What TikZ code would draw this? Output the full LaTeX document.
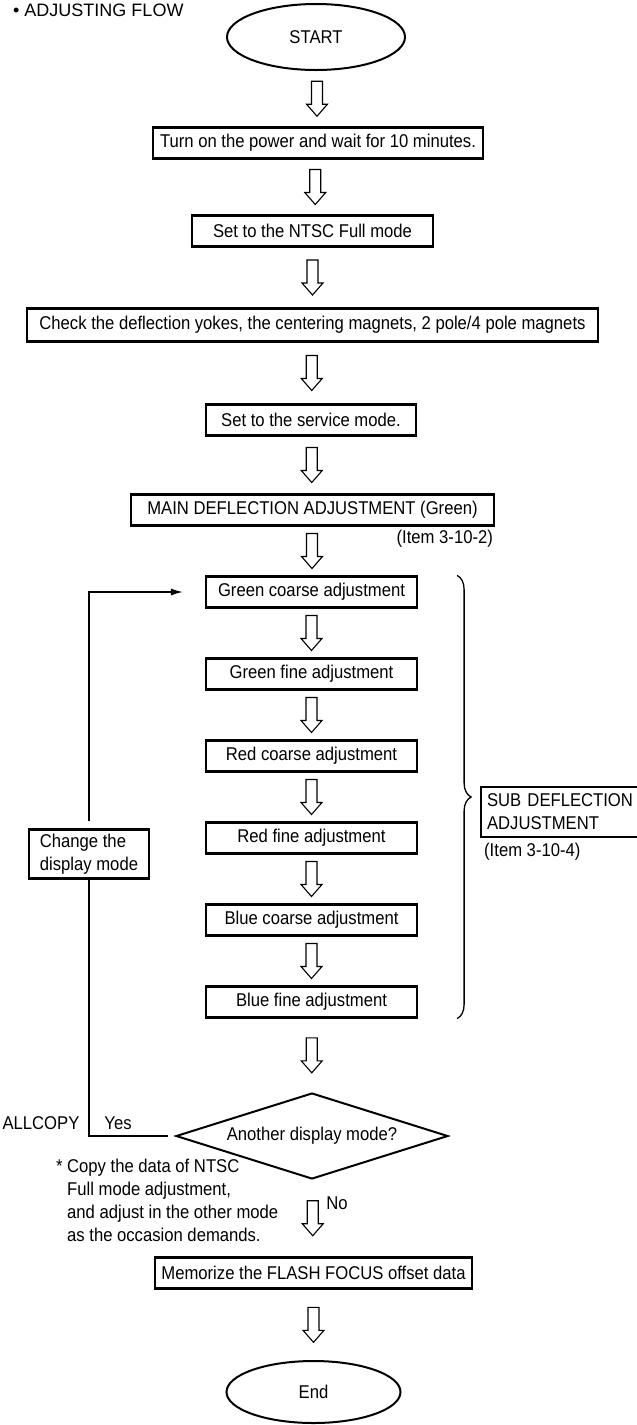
\documentclass[tikz,border=0pt]{standalone}
\usepackage{fontspec}
\setmainfont{Liberation Sans}[FakeStretch=0.9]
\newfontfamily\headfont{Liberation Sans}
\usepackage{tikz}
\usetikzlibrary{arrows.meta,positioning,shapes.geometric,calc,decorations.pathreplacing}
\tikzset{
  hollowdown/.pic={
    \draw[line width=1.1pt, fill=white] (-5.5,-17.5) -- (-5.5,5.5) -- (-10.5,5.5)
      -- (0,17.5) -- (10.5,5.5) -- (5.5,5.5) -- (5.5,-17.5) -- cycle;
  }
}
\newcommand{\flowstep}[2]{\pic at ($(#1.south)!0.5!(#2.north)$) {hollowdown};}

\begin{document}
\begin{tikzpicture}[
    x=1pt, y=-1pt,
    font=\fontsize{18.5}{23}\selectfont,
    box/.style={draw=black, line width=2.2pt, minimum height=31pt, inner sep=0pt, align=center},
    term/.style={ellipse, draw=black, line width=2pt, minimum width=178pt, minimum height=66pt, inner sep=0pt},
    ask/.style={diamond, draw=black, line width=2pt, aspect=3.2, minimum width=272pt,
                minimum height=86pt, inner sep=0pt},
    lbl/.style={inner sep=0pt},
    line/.style={line width=1.3pt, draw=black},
    arrow/.style={line, -{Latex[length=12pt, width=7pt]}}
]
\useasboundingbox (0,0) rectangle (637,1425);

\node[lbl, anchor=west, font=\headfont\fontsize{18}{22}\selectfont] (title) at (13,10) {• ADJUSTING FLOW};
\node[term] (start) at (316,37) {START};
\node[box, minimum width=330pt] (power) at (318,143) {Turn on the power and wait for 10 minutes.};
\node[box, minimum width=241pt] (ntsc) at (312.5,231) {Set to the NTSC Full mode};
\node[box, minimum width=571pt, minimum height=33pt] (check) at (312.5,325)
    {Check the deflection yokes, the centering magnets, 2 pole/4 pole magnets};
\node[box, minimum width=210pt] (service) at (311,420) {Set to the service mode.};
\node[box, minimum width=363pt] (maindef) at (312.5,510) {MAIN DEFLECTION ADJUSTMENT (Green)};
\node[lbl, anchor=east] (mainref) at ($(maindef.south east)+(-2,12)$) {(Item 3-10-2)};
\node[box, minimum width=211pt] (gc) at (311.5,592) {Green coarse adjustment};
\node[box, minimum width=211pt] (gf) at (311.5,674) {Green fine adjustment};
\node[box, minimum width=211pt] (rc) at (311.5,756) {Red coarse adjustment};
\node[box, minimum width=211pt] (rf) at (311.5,838) {Red fine adjustment};
\node[box, minimum width=211pt] (bc) at (311.5,920) {Blue coarse adjustment};
\node[box, minimum width=211pt] (bf) at (311.5,1002) {Blue fine adjustment};
\node[ask] (another) at (312,1136) {Another display mode?};
\node[box, minimum width=317pt] (memo) at (313.5,1273) {Memorize the FLASH FOCUS offset data};
\node[term, minimum width=174pt, minimum height=62pt] (end) at (313.5,1392) {End};

\node[box, align=left, minimum width=120pt, minimum height=49pt] (chmode) at (89,854)
    {Change the\\display mode};
\node[box, align=left, anchor=west, text width=150pt, inner xsep=6pt, minimum height=50pt] (subdef)
    at (480,812) {SUB DEFLECTION\\ADJUSTMENT};
\node[lbl, anchor=west] (subref) at ($(subdef.south west)+(4,14)$) {(Item 3-10-4)};

\node[lbl] (allcopy) at (41,1123) {ALLCOPY};
\node[lbl] (yes) at (118,1123) {Yes};
\node[lbl] (no) at (337,1203) {No};
\node[lbl, anchor=north west, align=left] (note) at (67,1159)
    {\llap{*\ }Copy the data of NTSC\\Full mode adjustment,\\and adjust in the other mode\\as the occasion demands.};

\flowstep{start}{power}
\flowstep{power}{ntsc}
\flowstep{ntsc}{check}
\flowstep{check}{service}
\flowstep{service}{maindef}
\flowstep{maindef}{gc}
\flowstep{gc}{gf}
\flowstep{gf}{rc}
\flowstep{rc}{rf}
\flowstep{rf}{bc}
\flowstep{bc}{bf}
\flowstep{bf}{another}
\flowstep{another}{memo}
\flowstep{memo}{end}

\draw[line, shorten <=7pt] (another.west) -- (another.west -| chmode.south) -- (chmode.south);
\draw[arrow, shorten <=7pt, shorten >=22pt] (chmode.north) -- (chmode.north |- gc.west) -- (gc.west);
\draw[line, decorate, decoration={brace, amplitude=14pt}]
    ($(gc.north east)+(39,0)$) -- ($(bf.south east)+(39,0)$);
\end{tikzpicture}
\end{document}
